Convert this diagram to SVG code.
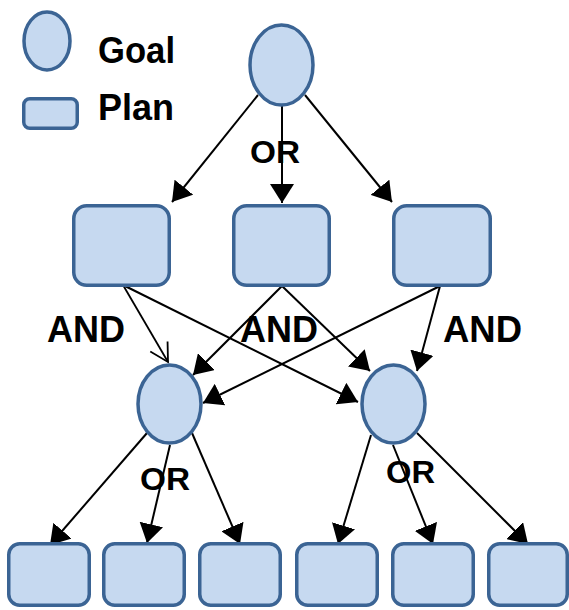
<svg xmlns="http://www.w3.org/2000/svg" width="569" height="610" viewBox="0 0 569 610">
<style>
.goal{fill:#c6d9f0;stroke:#3b6494;stroke-width:3.5}
.plan{fill:#c6d9f0;stroke:#3b6494;stroke-width:3.5}
.lbl{font-family:"Liberation Sans",Arial,sans-serif;font-weight:bold;fill:#000}
.edge{stroke:#000;stroke-width:2;fill:none;marker-end:url(#ah)}
.edge-open{stroke:#000;stroke-width:1.8;fill:none;marker-end:url(#ao)}
</style>
<defs>
<marker id="ah" markerWidth="20" markerHeight="24" refX="19" refY="12" orient="auto" markerUnits="userSpaceOnUse">
<path d="M0,0 L19,12 L0,24 Z" fill="#000"/>
</marker>
<marker id="ao" markerWidth="22" markerHeight="24" refX="20" refY="12" orient="auto" markerUnits="userSpaceOnUse">
<path d="M2,2 L20,12 L2,22" fill="none" stroke="#000" stroke-width="1.8"/>
</marker>
</defs>
<rect width="569" height="610" fill="#fff"/>

<g id="legend">
<ellipse class="goal" cx="47" cy="41" rx="23" ry="29"/>
<text class="lbl" x="98" y="63" font-size="36" textLength="77" lengthAdjust="spacingAndGlyphs">Goal</text>
<rect class="plan" x="23.75" y="98.75" width="53.5" height="29.5" rx="6"/>
<text class="lbl" x="98" y="120" font-size="36" textLength="76" lengthAdjust="spacingAndGlyphs">Plan</text>
</g>

<g id="connectors">
<line class="edge" x1="258" y1="95" x2="172" y2="202"/>
<line class="edge" x1="282" y1="106" x2="282" y2="203"/>
<line class="edge" x1="305" y1="95" x2="392" y2="202"/>

<line class="edge-open" x1="123" y1="285" x2="168" y2="362"/>
<line class="edge" x1="123" y1="285" x2="358" y2="402"/>
<line class="edge" x1="282" y1="286" x2="193" y2="375"/>
<line class="edge" x1="282" y1="286" x2="370" y2="371"/>
<line class="edge" x1="440" y1="286" x2="203" y2="403"/>
<line class="edge" x1="440" y1="286" x2="417" y2="371"/>

<line class="edge" x1="147" y1="433" x2="50" y2="545"/>
<line class="edge" x1="170" y1="445" x2="147" y2="543"/>
<line class="edge" x1="192" y1="433" x2="240" y2="544"/>

<line class="edge" x1="371" y1="435" x2="338" y2="544"/>
<line class="edge" x1="393" y1="445" x2="433" y2="544"/>
<line class="edge" x1="417" y1="433" x2="528" y2="544"/>
</g>

<g id="labels">
<text class="lbl" x="250" y="163" font-size="31" textLength="50" lengthAdjust="spacingAndGlyphs">OR</text>
<text class="lbl" x="47" y="342" font-size="36" textLength="78" lengthAdjust="spacingAndGlyphs">AND</text>
<text class="lbl" x="240" y="342" font-size="36" textLength="78" lengthAdjust="spacingAndGlyphs">AND</text>
<text class="lbl" x="443" y="342" font-size="36" textLength="79" lengthAdjust="spacingAndGlyphs">AND</text>
<text class="lbl" x="140" y="490" font-size="31" textLength="50" lengthAdjust="spacingAndGlyphs">OR</text>
<text class="lbl" x="386" y="483" font-size="31" textLength="49" lengthAdjust="spacingAndGlyphs">OR</text>
</g>

<g id="goal-top"><ellipse class="goal" cx="281.5" cy="65" rx="31.5" ry="40"/></g>

<g id="plan-m1"><rect class="plan" x="73.75" y="205.75" width="95.5" height="79.5" rx="13"/></g>
<g id="plan-m2"><rect class="plan" x="233.75" y="205.75" width="95.5" height="79.5" rx="13"/></g>
<g id="plan-m3"><rect class="plan" x="393.75" y="205.75" width="96.5" height="79.5" rx="13"/></g>

<g id="goal-left"><ellipse class="goal" cx="169.5" cy="404" rx="31.5" ry="39"/></g>
<g id="goal-right"><ellipse class="goal" cx="393.5" cy="404" rx="31.5" ry="39"/></g>

<g id="plan-b1"><rect class="plan" x="8.75" y="543.75" width="80.5" height="61.5" rx="11"/></g>
<g id="plan-b2"><rect class="plan" x="103.75" y="543.75" width="80.5" height="61.5" rx="11"/></g>
<g id="plan-b3"><rect class="plan" x="199.75" y="543.75" width="80.5" height="61.5" rx="11"/></g>
<g id="plan-b4"><rect class="plan" x="296.75" y="543.75" width="80.5" height="61.5" rx="11"/></g>
<g id="plan-b5"><rect class="plan" x="392.75" y="543.75" width="80.5" height="61.5" rx="11"/></g>
<g id="plan-b6"><rect class="plan" x="488.75" y="543.75" width="78.5" height="61.5" rx="11"/></g>
</svg>
